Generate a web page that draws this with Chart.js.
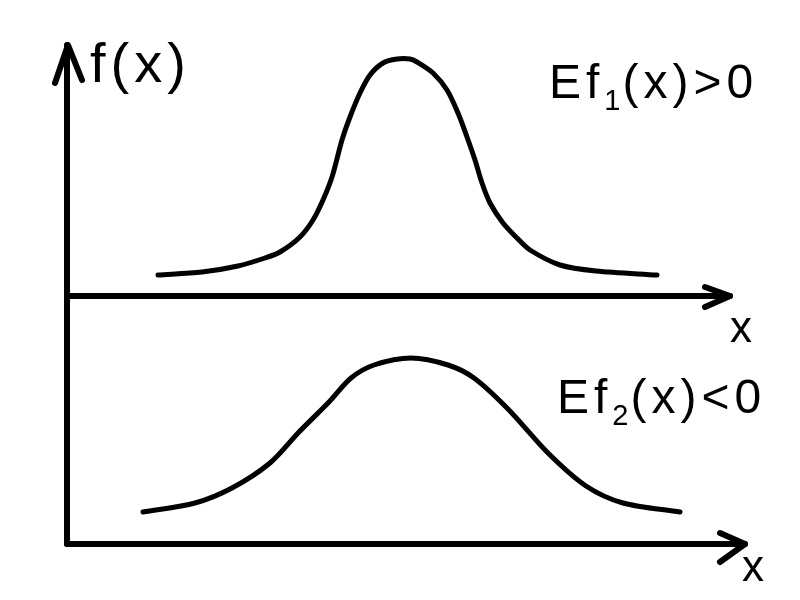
<!DOCTYPE html>
<html lang="en">
<head>
<meta charset="UTF-8">
<title>f(x)</title>
<script src="https://cdn.jsdelivr.net/npm/chart.js"></script>
<style>
  html, body { margin: 0; padding: 0; background: #fff; }
  #wrap { width: 800px; height: 600px; }
</style>
</head>
<body>
<div id="wrap"><canvas id="myChart" width="800" height="600"></canvas></div>
<script>
// x to the right, y upward, on a 0..800 by 0..600 grid
var curve1X = [158, 202, 238, 265, 280, 300, 313, 323, 332, 342, 350, 360, 370, 383, 397, 410, 417, 433, 447, 458, 467, 475, 482, 490, 503, 517, 530, 560, 596, 657];
var curve1Y = [325, 328, 334, 342, 348, 363, 380, 400, 423, 460, 483, 507, 525, 537, 541, 541, 538, 527, 510, 487, 463, 440, 417, 397, 377, 362, 350, 335, 329, 325];

var curve2X = [143, 195, 232, 270, 299, 329, 351, 374, 411, 448, 474, 508, 548, 586, 623, 680];
var curve2Y = [88, 97, 112, 137, 168, 198, 222, 235, 242, 235, 222, 191, 147, 114, 97, 88];

// axes and arrow heads
var yAxisX = [67, 67];
var yAxisY = [56, 555];
var yArrowX = [55, 68, 82];
var yArrowY = [517, 555, 520];

var axis1X = [67, 730];
var axis1Y = [304, 304];
var arrow1X = [705, 730, 705];
var arrow1Y = [313, 304, 293];

var axis2X = [67, 745];
var axis2Y = [56, 56];
var arrow2X = [720, 745, 720];
var arrow2Y = [67, 56, 38];

function pts(xs, ys) {
    var out = [];
    for (var i = 0; i < xs.length; i++) out.push({x: xs[i], y: ys[i]});
    return out;
}

function stroke(xs, ys, smooth) {
    return {
        data: pts(xs, ys),
        showLine: true,
        borderColor: '#000',
        borderWidth: smooth ? 5 : 6,
        borderCapStyle: 'round',
        borderJoinStyle: 'round',
        pointRadius: 0,
        fill: false,
        tension: smooth ? 0.3 : 0
    };
}

// text labels, placed on the same grid
var labels = [
    {parts: [['f(x)', 0]], x: 90, y: 533, size: 56, gap: 5},
    {parts: [['Ef', 0], ['1', 1], ['(x)>0', 0]], x: 549, y: 515, size: 48, gap: 5},
    {parts: [['Ef', 0], ['2', 1], ['(x)<0', 0]], x: 557, y: 200, size: 48, gap: 5},
    {parts: [['x', 0]], x: 730, y: 270, size: 44, gap: 0},
    {parts: [['x', 0]], x: 742, y: 31, size: 44, gap: 0}
];

var textPlugin = {
    id: 'sketchText',
    afterDraw: function (chart) {
        var ctx = chart.ctx;
        var sx = chart.scales.x, sy = chart.scales.y;
        ctx.save();
        ctx.fillStyle = '#000';
        ctx.textBaseline = 'middle';
        ctx.textAlign = 'left';
        labels.forEach(function (l) {
            var px = sx.getPixelForValue(l.x);
            var py = sy.getPixelForValue(l.y);
            l.parts.forEach(function (p) {
                var sub = p[1] === 1;
                var size = sub ? Math.round(l.size * 0.6) : l.size;
                ctx.font = size + 'px "Liberation Sans", sans-serif';
                ctx.letterSpacing = (sub ? 2 : l.gap) + 'px';
                ctx.fillText(p[0], px, py + (sub ? l.size * 0.35 : 0));
                px += ctx.measureText(p[0]).width;
            });
        });
        ctx.restore();
    }
};

new Chart(document.getElementById('myChart'), {
    type: 'scatter',
    data: {
        datasets: [
            stroke(curve1X, curve1Y, true),
            stroke(curve2X, curve2Y, true),
            stroke(yAxisX, yAxisY, false),
            stroke(yArrowX, yArrowY, false),
            stroke(axis1X, axis1Y, false),
            stroke(arrow1X, arrow1Y, false),
            stroke(axis2X, axis2Y, false),
            stroke(arrow2X, arrow2Y, false)
        ]
    },
    options: {
        responsive: false,
        animation: false,
        layout: { padding: 0 },
        plugins: {
            legend: { display: false },
            tooltip: { enabled: false }
        },
        scales: {
            x: { type: 'linear', min: 0, max: 800, display: false },
            y: { type: 'linear', min: 0, max: 600, display: false }
        }
    },
    plugins: [textPlugin]
});
</script>
</body>
</html>
